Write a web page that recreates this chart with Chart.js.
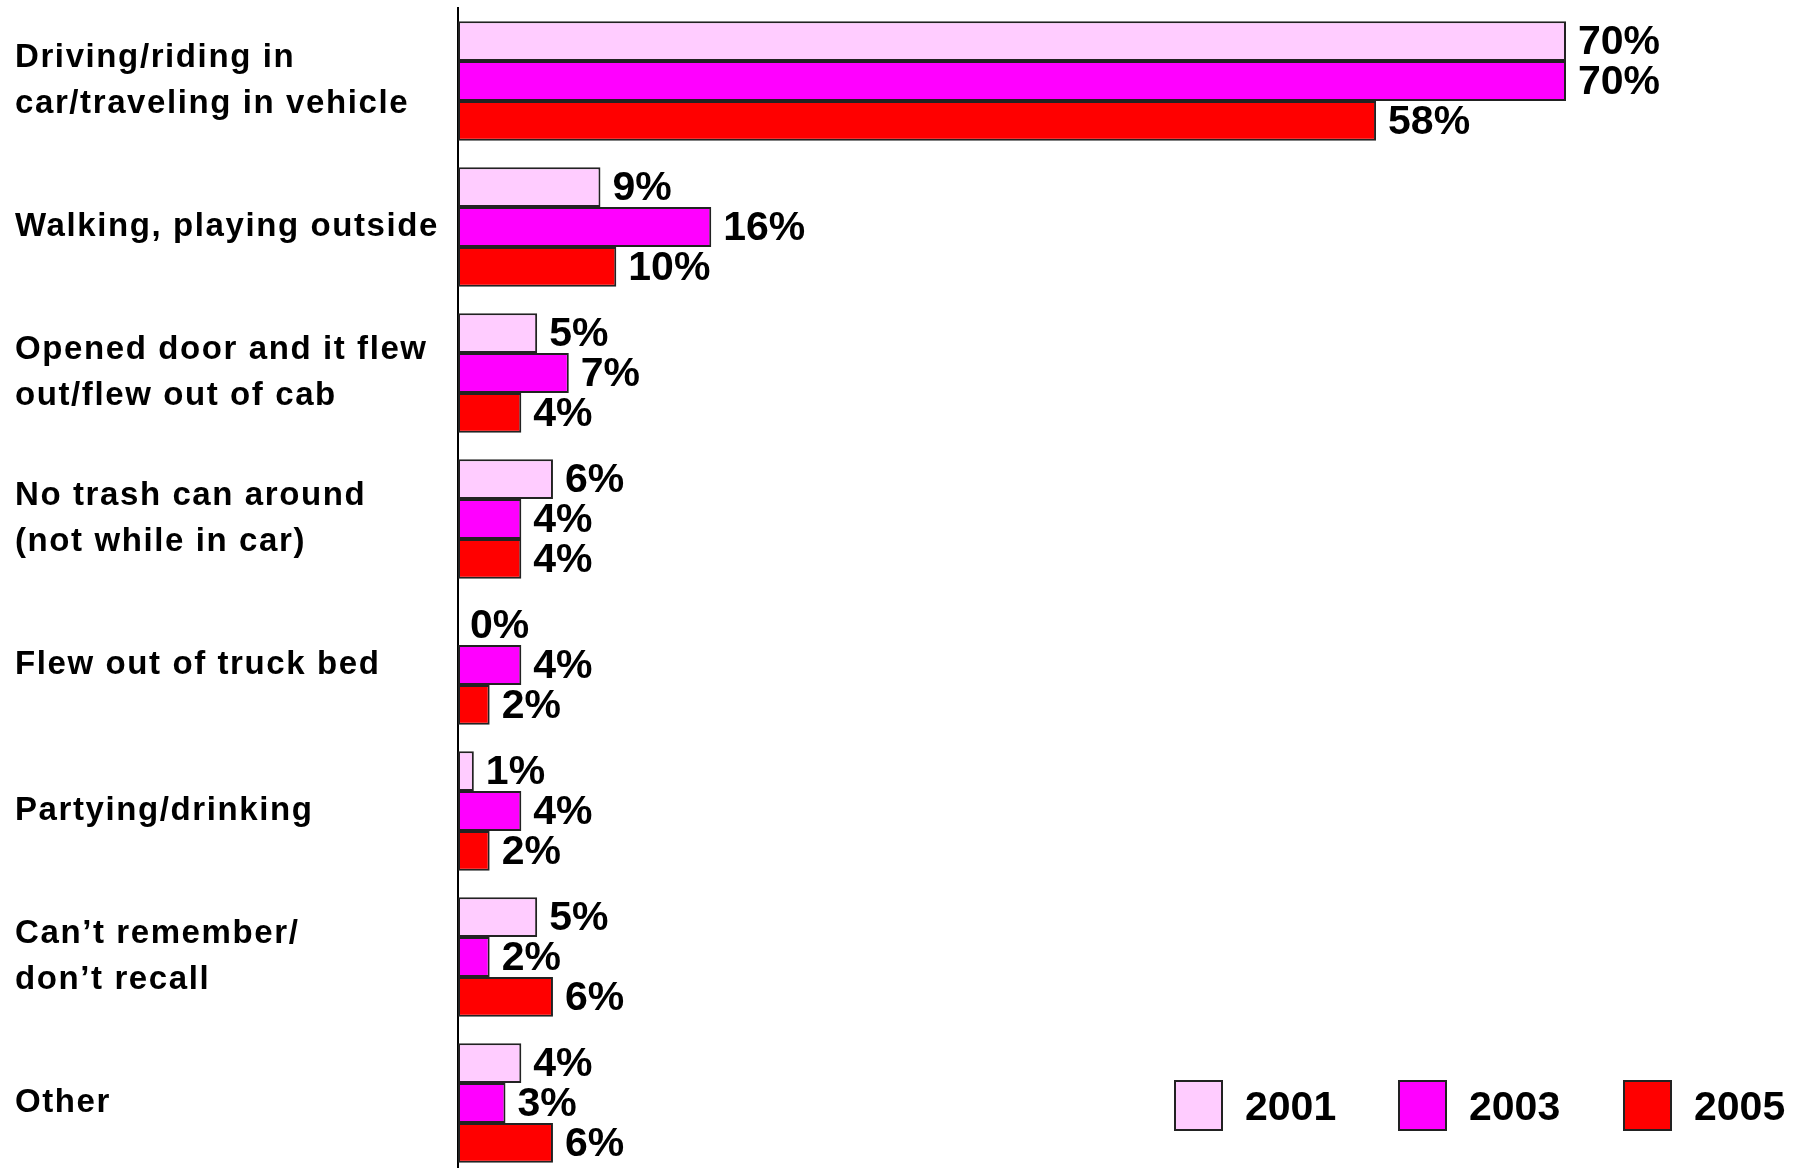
<!DOCTYPE html>
<html>
<head>
<meta charset="utf-8">
<script src="https://cdn.jsdelivr.net/npm/chart.js"></script>
<style>
  html, body { margin: 0; padding: 0; background: #fff; overflow: hidden; }
  #wrap { position: relative; width: 1803px; height: 1168px; }
  .leg { position: absolute; top: 1080px; font: bold 41px "Liberation Sans", Arial, sans-serif; color: #000; }
  .leg span.box { position: absolute; left: 0; top: 0; width: 45px; height: 47px; border: 2px solid #222; }
  .leg span.txt { position: absolute; left: 71px; top: 1px; line-height: 50px; }
</style>
</head>
<body>
<div id="wrap">
  <canvas id="chart" width="1803" height="1176"></canvas>
  <div id="legend"></div>
</div>
<script>
const categories = [
  ['Driving/riding in', 'car/traveling in vehicle'],
  'Walking, playing outside',
  ['Opened door and it flew', 'out/flew out of cab'],
  ['No trash can around', '(not while in car)'],
  'Flew out of truck bed',
  'Partying/drinking',
  ['Can\u2019t remember/', 'don\u2019t recall'],
  'Other'
];
const years = ['2001', '2003', '2005'];
const values2001 = [70, 9, 5, 6, 0, 1, 5, 4];
const values2003 = [70, 16, 7, 4, 4, 4, 2, 3];
const values2005 = [58, 10, 4, 4, 2, 2, 6, 6];
const colors = ['#FFCCFF', '#FF00FF', '#FF0000'];

const font = '"Liberation Sans", Arial, sans-serif';

// the category labels in the original are set a little wide
const wideText = {
  id: 'wideText',
  beforeDraw(chart) { chart.ctx.letterSpacing = '1.6px'; }
};

// value labels to the right of each bar
const barLabels = {
  id: 'barLabels',
  afterDatasetsDraw(chart) {
    const ctx = chart.ctx;
    ctx.save();
    ctx.letterSpacing = '0px';
    ctx.font = 'bold 41px ' + font;
    ctx.fillStyle = '#000';
    ctx.textAlign = 'left';
    ctx.textBaseline = 'middle';
    chart.data.datasets.forEach((ds, i) => {
      chart.getDatasetMeta(i).data.forEach((bar, j) => {
        ctx.fillText(ds.data[j] + '%', bar.x + 12, bar.y + 2);
      });
    });
    ctx.restore();
  }
};

const allValues = [values2001, values2003, values2005];

new Chart(document.getElementById('chart'), {
  type: 'bar',
  data: {
    labels: categories,
    datasets: years.map((y, i) => ({
      label: y,
      data: allValues[i],
      backgroundColor: colors[i],
      borderColor: '#222',
      borderWidth: 2,
      borderSkipped: false,
      categoryPercentage: 0.82,
      barPercentage: 1.0
    }))
  },
  options: {
    indexAxis: 'y',
    responsive: false,
    animation: false,
    layout: { padding: { left: 15, right: 237, top: 8, bottom: 0 } },
    plugins: {
      legend: { display: false },
      tooltip: { enabled: false }
    },
    scales: {
      x: { display: false, min: 0, max: 70 },
      y: {
        grid: { display: false, drawTicks: false },
        border: { display: true, color: '#000', width: 2 },
        afterFit(scale) {
          scale.width = 443;
          scale.paddingTop = 0;
          scale.paddingBottom = 0;
        },
        ticks: {
          crossAlign: 'far',
          padding: 0,
          color: '#000',
          font: { family: font, size: 33, weight: 'bold', lineHeight: 1.37 }
        }
      }
    }
  },
  plugins: [wideText, barLabels]
});

// legend at bottom right
const legendX = [1174, 1398, 1623];
const legend = document.getElementById('legend');
years.forEach((y, i) => {
  const d = document.createElement('div');
  d.className = 'leg';
  d.style.left = legendX[i] + 'px';
  d.innerHTML = '<span class="box" style="background:' + colors[i] + '"></span><span class="txt">' + y + '</span>';
  legend.appendChild(d);
});
</script>
</body>
</html>
